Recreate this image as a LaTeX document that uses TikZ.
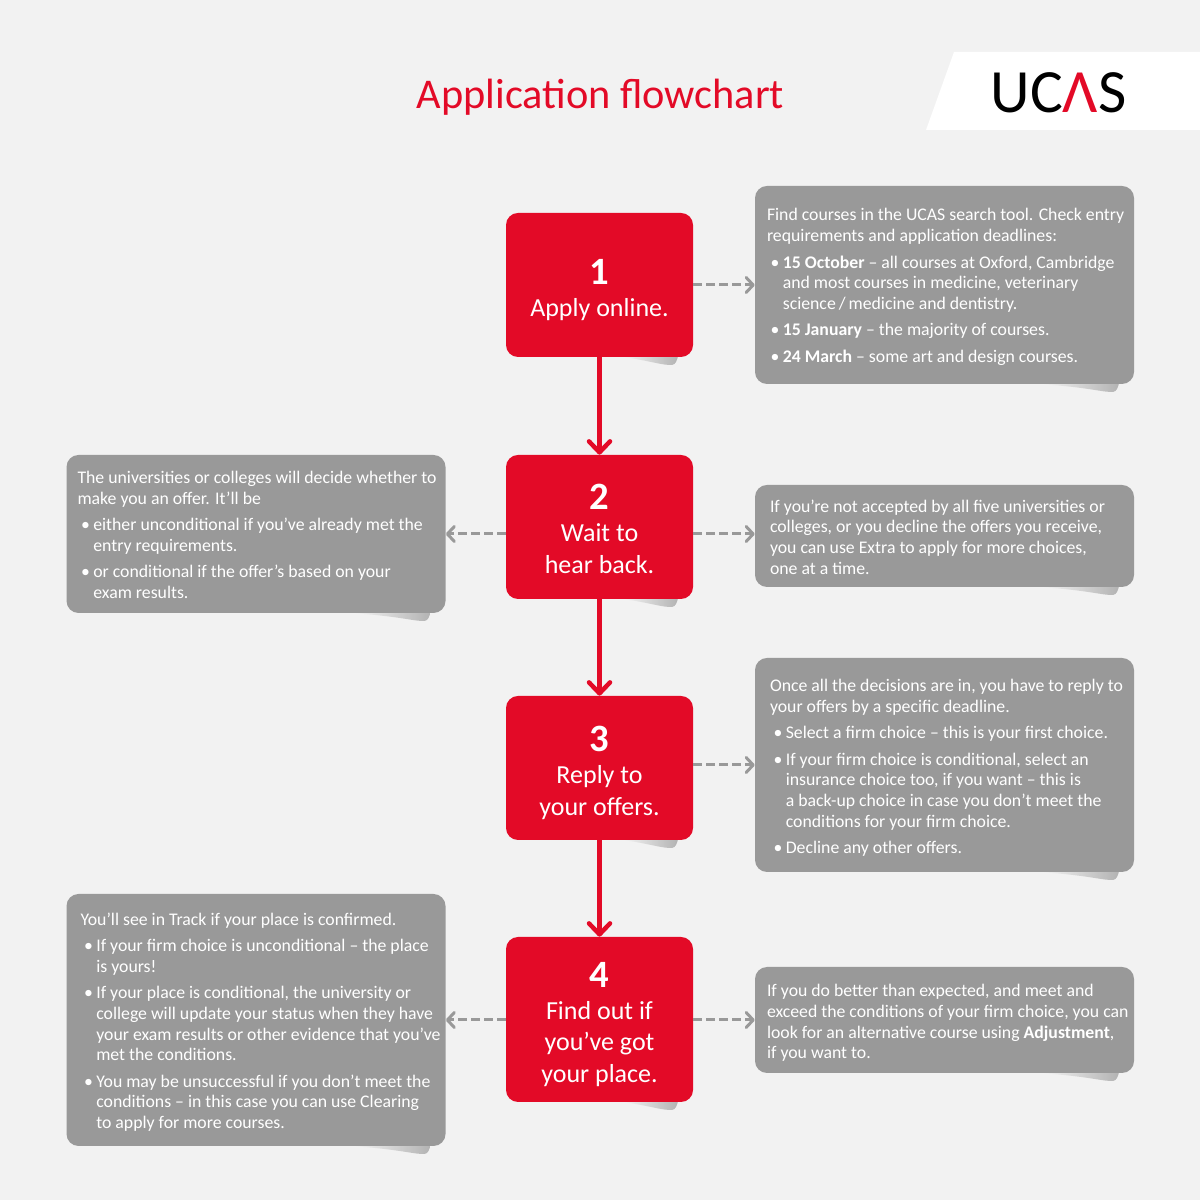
\documentclass[tikz,border=0pt]{standalone}
\usepackage{fontspec}
\setmainfont{Carlito}
\usetikzlibrary{arrows.meta,backgrounds}
\definecolor{ucasred}{HTML}{E30A27}
\definecolor{ucasgrey}{HTML}{999999}
\definecolor{ucasbg}{HTML}{F2F2F2}
\newcommand{\bul}{\hbox to 9pt{\hspace{2pt}\textbullet\hfil}}
\newcommand{\hang}{\hspace*{9pt}}
\newcommand{\bignum}[1]{{\fontsize{22}{24}\selectfont\bfseries\rule{0pt}{20pt}#1}}
\tikzset{
  stepbox/.style={shape=rectangle,rounded corners=0.24cm,fill=ucasred,text=white,minimum width=3.74cm,align=center,inner sep=0pt,font=\fontsize{14.8}{18}\selectfont},
  panel/.style={shape=rectangle,rounded corners=0.24cm,fill=ucasgrey,minimum width=7.58cm,inner sep=0pt},
  paneltext/.style={text=white,inner sep=0pt,align=left,anchor=west,font=\fontsize{10.1}{11.8}\selectfont},
  stepline/.style={draw=ucasred,line width=0.09cm,line cap=round,-{Straight Barb[length=0.22cm,width=0.42cm,line width=0.09cm,round]}},
  dashline/.style={draw=ucasgrey,line width=0.06cm,dash pattern=on 0.18cm off 0.08cm,-{Straight Barb[length=0.14cm,width=0.3cm,line width=0.06cm,round]}}
}
\begin{document}
\begin{tikzpicture}
            \useasboundingbox (0,0) rectangle (24,24);
            \begin{pgfonlayer}{background}
            \fill[ucasbg] (0,0) rectangle (24,24);
            \end{pgfonlayer}
            \fill[white] (18.52,21.4)--(19.08,22.96)--(24,22.96)--(24,21.4)--cycle;

            \node[text=ucasred,font=\fontsize{24.1}{28}\selectfont] (title) at (12.01,22.06) {Application flowchart};
            \node[font=\fontsize{35}{40}\selectfont,text=black] (logo) at (21.17,22.15) {UC\textcolor{ucasred}{Λ}S};

            \node[stepbox,minimum height=2.88cm] (S1) at (11.99,18.3) {\bignum{1}\\Apply online.};
            \node[stepbox,minimum height=2.88cm] (S2) at (11.99,13.46) {\bignum{2}\\Wait to\\hear back.\rule[-3.4pt]{0pt}{3.4pt}};
            \node[stepbox,minimum height=2.88cm] (S3) at (11.99,8.64) {\bignum{3}\\Reply to\\your offers.};
            \node[stepbox,minimum height=3.3cm] (S4) at (11.99,3.61) {\bignum{4}\\Find out if\\you’ve got\\your place.};

            \node[panel,minimum height=3.96cm] (P1) at (18.89,18.3) {};
            \node[panel,minimum height=2.04cm] (P2) at (18.89,13.28) {};
            \node[panel,minimum height=3.16cm] (Q2) at (5.12,13.32) {};
            \node[panel,minimum height=4.28cm] (P3) at (18.89,8.7) {};
            \node[panel,minimum height=2.12cm] (P4) at (18.89,3.6) {};
            \node[panel,minimum height=5.04cm] (Q4) at (5.12,3.6) {};

            \node[paneltext] (T1) at ([xshift=0.24cm,yshift=-0.04cm]P1.west) {Find courses in the UCAS search tool. Check entry\\requirements and application deadlines:\\[3.2pt]
              \bul\textbf{15 October} – all courses at Oxford, Cambridge\\\hang and most courses in medicine, veterinary\\\hang science\,/\,medicine and dentistry.\\[3.2pt]
              \bul\textbf{15 January} – the majority of courses.\\[3.2pt]
              \bul\textbf{24 March} – some art and design courses.};
            \node[paneltext] (T2) at ([xshift=0.3cm,yshift=-0.02cm]P2.west) {If you’re not accepted by all five universities or\\colleges, or you decline the offers you receive,\\you can use Extra to apply for more choices,\\one at a time.};
            \node[paneltext] (U2) at ([xshift=0.22cm,yshift=-0.02cm]Q2.west) {The universities or colleges will decide whether to\\make you an offer. It’ll be\\[3.2pt]
              \bul either unconditional if you’ve already met the\\\hang entry requirements.\\[3.2pt]
              \bul or conditional if the offer’s based on your\\\hang exam results.};
            \node[paneltext] (T3) at ([xshift=0.3cm,yshift=-0.06cm]P3.west) {Once all the decisions are in, you have to reply to\\your offers by a specific deadline.\\[3.2pt]
              \bul Select a firm choice – this is your first choice.\\[3.2pt]
              \bul If your firm choice is conditional, select an\\\hang insurance choice too, if you want – this is\\\hang a back-up choice in case you don’t meet the\\\hang conditions for your firm choice.\\[3.2pt]
              \bul Decline any other offers.};
            \node[paneltext] (T4) at ([xshift=0.24cm,yshift=-0.06cm]P4.west) {If you do better than expected, and meet and\\exceed the conditions of your firm choice, you can\\look for an alternative course using \textbf{Adjustment},\\if you want to.};
            \node[paneltext] (U4) at ([xshift=0.28cm,yshift=-0.04cm]Q4.west) {You’ll see in Track if your place is confirmed.\\[3.2pt]
              \bul If your firm choice is unconditional – the place\\\hang is yours!\\[3.2pt]
              \bul If your place is conditional, the university or\\\hang college will update your status when they have\\\hang your exam results or other evidence that you’ve\\\hang met the conditions.\\[3.2pt]
              \bul You may be unsuccessful if you don’t meet the\\\hang conditions – in this case you can use Clearing\\\hang to apply for more courses.};

            % paper curl under each box
            \begin{pgfonlayer}{background}
            \foreach \boxname/\tailw in {S1/1.04,S2/1.04,S3/1.04,S4/1.04,P1/1.48,P2/1.48,Q2/1.48,P3/1.48,P4/1.48,Q4/1.48} {
              \shade[left color=ucasbg,right color=black!30] ([xshift=-0.34cm-\tailw cm]\boxname.south east) .. controls ([xshift=-0.9cm,yshift=-0.06cm]\boxname.south east) and ([xshift=-0.6cm,yshift=-0.17cm]\boxname.south east) .. ([xshift=-0.42cm,yshift=-0.15cm]\boxname.south east) .. controls ([xshift=-0.36cm,yshift=-0.14cm]\boxname.south east) and ([xshift=-0.33cm,yshift=-0.08cm]\boxname.south east) .. ([xshift=-0.3cm,yshift=0.05cm]\boxname.south east) -- cycle;
            }
            \end{pgfonlayer}

            \path (S1) edge [stepline] (S2);
            \path (S2) edge [stepline] (S3);
            \path (S3) edge [stepline] (S4);

            \path (S1) edge [dashline] (P1);
            \path (S2.east |- Q2.east) edge [dashline] (P2.west |- Q2.east);
            \path (S2.west |- Q2.east) edge [dashline] (Q2);
            \path (S3.east |- P3.west) edge [dashline] (P3);
            \path (S4.east |- P4.west) edge [dashline] (P4);
            \path (S4.west |- Q4.east) edge [dashline] (Q4);
        \end{tikzpicture}
\end{document}
